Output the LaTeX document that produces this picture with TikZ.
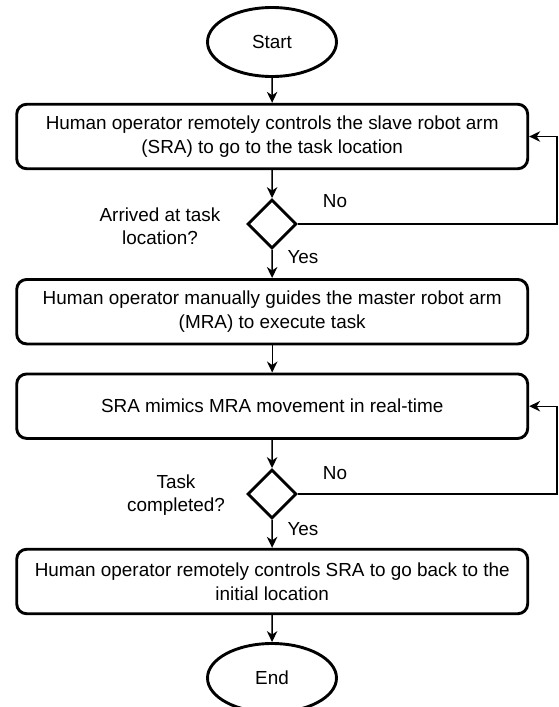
\documentclass[tikz,border=0pt]{standalone}
\usepackage{fontspec}
\setmainfont{Liberation Sans}
\usetikzlibrary{shapes.geometric,arrows.meta}
\begin{document}
\begin{tikzpicture}[x=1pt,y=-1pt,
  every node/.style={font=\fontsize{18.9}{23.5}\selectfont, text=black},
  box/.style={draw, line width=2.9pt, rounded corners=10pt, minimum width=511pt, minimum height=64.5pt, align=center, inner sep=0pt},
  term/.style={draw, ellipse, line width=2.9pt, minimum width=129pt, minimum height=69pt, inner sep=0pt},
  dec/.style={draw, diamond, line width=2.9pt, minimum width=49pt, minimum height=49pt, inner sep=0pt},
  lbl/.style={align=center, inner sep=0pt},
  flow/.style={line width=1.4pt, -{Stealth[length=11pt,width=10.5pt,inset=3.5pt]}},
  loopline/.style={line width=1.4pt, -{Stealth[length=11pt,width=10.5pt,inset=3.5pt]}}
]
\useasboundingbox (0,0) rectangle (558,707);
\clip (0,0) rectangle (558,707);

\node[term] (start) at (272,42) {Start};
\node[box] (b1) at (272.2,136.5) {Human operator remotely controls the slave robot arm\\(SRA) to go to the task location};
\node[dec] (d1) at (272,224) {};
\node[box] (b2) at (272.2,311.7) {Human operator manually guides the master robot arm\\(MRA) to execute task};
\node[box] (b3) at (272.2,406.2) {SRA mimics MRA movement in real-time};
\node[dec] (d2) at (272,494) {};
\node[box] (b4) at (272.2,581.5) {Human operator remotely controls SRA to go back to the\\initial location};
\node[term] (end) at (272,678) {End};

\node[lbl] (q1) at (160,226) {Arrived at task\\location?};
\node[lbl] (q2) at (176,495) {Task\\completed?};
\node[lbl] (no1) at (335,201) {No};
\node[lbl] (yes1) at (303,257) {Yes};
\node[lbl] (no2) at (335,473) {No};
\node[lbl] (yes2) at (303,529) {Yes};

\coordinate (r1a) at (557,224);
\coordinate (r1b) at (557,136.5);
\coordinate (r2a) at (557,494);
\coordinate (r2b) at (557,406.2);

\draw[flow] (start) -- (b1);
\draw[flow] (b1) -- (d1);
\draw[flow] (d1) -- (b2);
\draw[flow] (b2) -- (b3);
\draw[flow] (b3) -- (d2);
\draw[flow] (d2) -- (b4);
\draw[flow] (b4) -- (end);
\draw[loopline] (d1.east) -- (r1a) -- (r1b) -- (b1.east);
\draw[loopline] (d2.east) -- (r2a) -- (r2b) -- (b3.east);
\end{tikzpicture}
\end{document}
